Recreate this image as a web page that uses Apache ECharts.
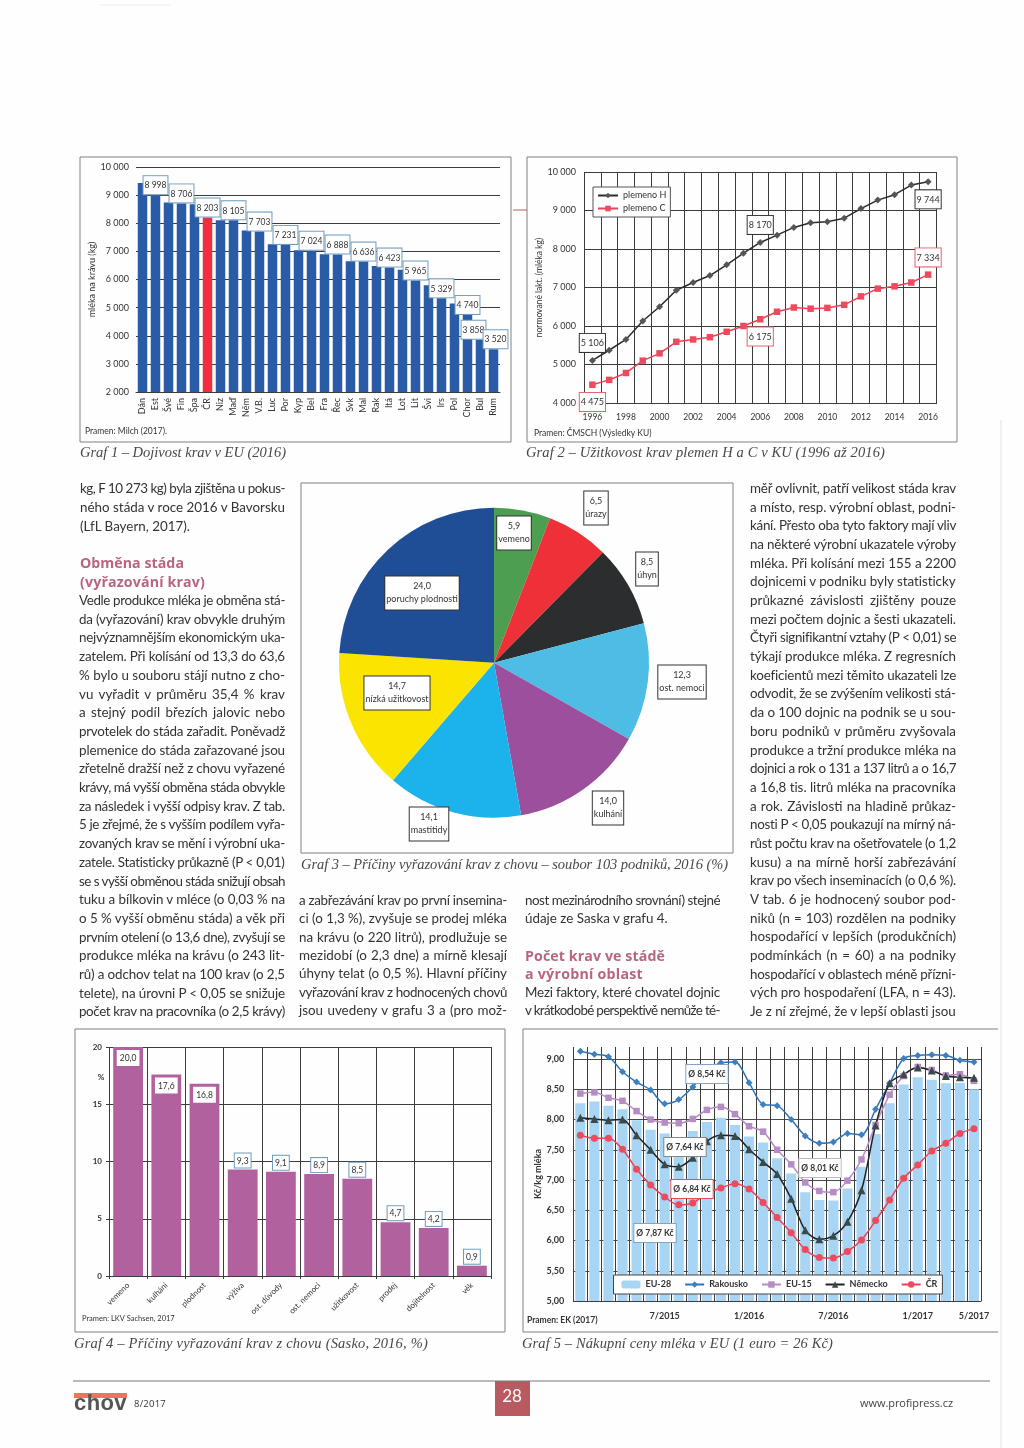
<!DOCTYPE html>
<html lang="cs"><head><meta charset="utf-8">
<style>
html,body{margin:0;padding:0;background:#fff}
#page{position:relative;width:1024px;height:1448px;overflow:hidden;background:#fefefe;filter:blur(0.3px)}
#chart{position:absolute;left:0;top:0;width:1024px;height:1448px}
.t{position:absolute;white-space:pre;line-height:1;transform:translateY(-50%);color:#3a3a3a}
</style>
<script src="https://cdn.jsdelivr.net/npm/echarts@6/dist/echarts.min.js"></script>
</head><body><div id="page"><div id="chart"></div></div>
<script>
// ---- Graf 1
const countries = ['Dán','Est','Švé','Fin','Špa','ČR','Niz','Maď','Něm','V.B.','Luc','Por','Kyp','Bel','Fra','Řec','Svk','Mal','Rak','Itá','Lot','Lit','Švi','Irs','Pol','Chor','Bul','Rum'];
const yields = [9430,8998,8740,8706,8680,8203,8110,8105,7740,7703,7250,7231,7040,7024,6900,6888,6650,6636,6480,6423,6350,5965,5800,5329,5150,4740,3858,3520];
const yieldLabelled = ['Est','Fin','ČR','Maď','V.B.','Por','Bel','Řec','Mal','Itá','Lit','Irs','Chor','Bul','Rum'];
// ---- Graf 2
const years = ['1996','1997','1998','1999','2000','2001','2002','2003','2004','2005','2006','2007','2008','2009','2010','2011','2012','2013','2014','2015','2016'];
const breedH = [5106,5370,5650,6130,6500,6930,7130,7310,7590,7890,8170,8360,8560,8680,8710,8800,9050,9270,9410,9660,9744];
const breedC = [4475,4600,4780,5100,5290,5590,5650,5710,5850,6000,6175,6370,6480,6450,6470,6550,6770,6970,7030,7130,7334];
// ---- Graf 3
const pieNames = ['vemeno','úrazy','úhyn','ost. nemoci','kulhání','mastitidy','nízká užitkovost','poruchy plodnosti'];
const pieValues = [5.9,6.5,8.5,12.3,14.0,14.1,14.7,24.0];
const pieColors = ['#4E9E52','#EE3038','#2B2D2E','#4DBDE6','#9C4F9C','#1CB2EC','#FBE400','#1F4E97'];
// ---- Graf 4
const reasons = ['vemeno','kulhání','plodnost','výživa','ost. důvody','ost. nemoci','užitkovost','prodej','dojitelnost','věk'];
const reasonValues = [20.0,17.6,16.8,9.3,9.1,8.9,8.5,4.7,4.2,0.9];
// ---- Graf 5
const months = ['1/2015','2/2015','3/2015','4/2015','5/2015','6/2015','7/2015','8/2015','9/2015','10/2015','11/2015','12/2015','1/2016','2/2016','3/2016','4/2016','5/2016','6/2016','7/2016','8/2016','9/2016','10/2016','11/2016','12/2016','1/2017','2/2017','3/2017','4/2017','5/2017'];
const monthsShown = ['7/2015','1/2016','7/2016','1/2017','5/2017'];
const eu28 = [8.27,8.30,8.23,8.17,7.99,7.83,7.77,7.60,7.81,7.96,8.03,7.91,7.72,7.62,7.36,7.11,6.80,6.67,6.66,6.86,7.22,7.76,8.27,8.58,8.70,8.66,8.60,8.61,8.50];
const rakousko = [9.13,9.08,9.04,8.79,8.62,8.49,8.26,8.33,8.54,8.78,8.94,8.95,8.61,8.25,8.23,8.00,7.73,7.61,7.63,7.77,7.75,8.17,8.60,9.01,9.06,9.07,9.06,8.98,8.95];
const eu15 = [8.43,8.45,8.36,8.31,8.14,8.00,7.95,7.94,8.01,8.16,8.21,8.09,7.89,7.80,7.50,7.26,6.96,6.82,6.80,6.99,7.34,7.91,8.41,8.72,8.87,8.82,8.73,8.75,8.64];
const nemecko = [8.03,8.01,7.99,8.00,7.74,7.50,7.26,7.22,7.37,7.64,7.74,7.73,7.51,7.30,7.10,6.69,6.17,6.02,6.08,6.31,6.83,7.90,8.60,8.75,8.86,8.81,8.72,8.70,8.69];
const cr = [7.74,7.69,7.69,7.51,7.18,6.92,6.72,6.59,6.62,6.78,6.87,6.94,6.85,6.63,6.38,6.13,5.85,5.72,5.71,5.82,6.01,6.33,6.67,7.03,7.25,7.48,7.61,7.77,7.85];
const g5Notes = ['Ø 8,54 Kč','Ø 7,64 Kč','Ø 6,84 Kč','Ø 7,87 Kč','Ø 8,01 Kč'];
// ---- Text
const colLeftA = ['kg, F 10 273 kg) byla zjištěna u pokus-','ného stáda v roce 2016 v Bavorsku','(LfL Bayern, 2017).'];
const colLeftB = ['Vedle produkce mléka je obměna stá-','da (vyřazování) krav obvykle druhým','nejvýznamnějším ekonomickým uka-','zatelem. Při kolísání od 13,3 do 63,6','% bylo u souboru stájí nutno z cho-','vu vyřadit v průměru 35,4 % krav','a stejný podíl březích jalovic nebo','prvotelek do stáda zařadit. Poněvadž','plemenice do stáda zařazované jsou','zřetelně dražší než z chovu vyřazené','krávy, má vyšší obměna stáda obvykle','za následek i vyšší odpisy krav. Z tab.','5 je zřejmé, že s vyšším podílem vyřa-','zovaných krav se mění i výrobní uka-','zatele. Statisticky průkazně (P < 0,01)','se s vyšší obměnou stáda snižují obsah','tuku a bílkovin v mléce (o 0,03 % na','o 5 % vyšší obměnu stáda) a věk při','prvním otelení (o 13,6 dne), zvyšují se','produkce mléka na krávu (o 243 lit-','rů) a odchov telat na 100 krav (o 2,5','telete), na úrovni P < 0,05 se snižuje','počet krav na pracovníka (o 2,5 krávy)'];
const colMidA = ['a zabřezávání krav po první insemina-','ci (o 1,3 %), zvyšuje se prodej mléka','na krávu (o 220 litrů), prodlužuje se','mezidobí (o 2,3 dne) a mírně klesají','úhyny telat (o 0,5 %). Hlavní příčiny','vyřazování krav z hodnocených chovů','jsou uvedeny v grafu 3 a (pro mož-'];
const colMidB = ['nost mezinárodního srovnání) stejné','údaje ze Saska v grafu 4.'];
const colMidC = ['Mezi faktory, které chovatel dojnic','v krátkodobé perspektivě nemůže té-'];
const colRight = ['měř ovlivnit, patří velikost stáda krav','a místo, resp. výrobní oblast, podni-','kání. Přesto oba tyto faktory mají vliv','na některé výrobní ukazatele výroby','mléka. Při kolísání mezi 155 a 2200','dojnicemi v podniku byly statisticky','průkazné závislosti zjištěny pouze','mezi počtem dojnic a šesti ukazateli.','Čtyři signifikantní vztahy (P < 0,01) se','týkají produkce mléka. Z regresních','koeficientů mezi těmito ukazateli lze','odvodit, že se zvýšením velikosti stá-','da o 100 dojnic na podnik se u sou-','boru podniků v průměru zvyšovala','produkce a tržní produkce mléka na','dojnici a rok o 131 a 137 litrů a o 16,7','a 16,8 tis. litrů mléka na pracovníka','a rok. Závislosti na hladině průkaz-','nosti P < 0,05 poukazují na mírný ná-','růst počtu krav na ošetřovatele (o 1,2','kusu) a na mírně horší zabřezávání','krav po všech inseminacích (o 0,6 %).','V tab. 6 je hodnocený soubor pod-','niků (n = 103) rozdělen na podniky','hospodařící v lepších (produkčních)','podmínkách (n = 60) a na podniky','hospodařící v oblastech méně přízni-','vých pro hospodaření (LFA, n = 43).','Je z ní zřejmé, že v lepší oblasti jsou'];

// ---- HTML text helpers
const page = document.getElementById('page');
function put(str,x,y,css,W,mode){
  const d=document.createElement('div');d.className='t';d.textContent=str;
  d.style.left=x+'px';d.style.top=y+'px';Object.assign(d.style,css);page.appendChild(d);
  if(W){
    const w=d.getBoundingClientRect().width, sp=(str.match(/ /g)||[]).length;
    if(mode==='fit'||w>W||!sp){d.style.letterSpacing=((W-w)/str.length).toFixed(3)+'px';}
    else{d.style.wordSpacing=((W-w)/sp).toFixed(3)+'px';}
  }
  return d;
}
const BODY={fontFamily:'Lato',fontSize:'13.4px',color:'#333'};
function col(lines,x,w,y0,step,lastFree){
  lines.forEach((s,i)=>put(s,x,y0+i*step,BODY,(lastFree&&i===lines.length-1)?0:w));
}
col(colLeftA,80,205,489,18.9,true);
col(colLeftB,79,206,601,18.7,false);
col(colMidA,299,208,901,18.35,false);
col(colMidB,525,195,901,18.35,true);
col(colMidC,525,195,993,18.35,false);
col(colRight,750,206,489,18.68,false);
const HEAD={fontFamily:'"Open Sans"',fontWeight:'700',fontSize:'14.2px',color:'#B9657F'};
put('Obměna stáda',80,563,HEAD,104,'fit');
put('(vyřazování krav)',80,582,HEAD,125,'fit');
put('Počet krav ve stádě',525,956,HEAD,140,'fit');
put('a výrobní oblast',525,974,HEAD,118,'fit');
const CAP={fontFamily:'"Liberation Serif"',fontStyle:'italic',fontSize:'14.5px',color:'#484848'};
put('Graf 1 – Dojivost krav v EU (2016)',80,452,CAP,206,'fit');
put('Graf 2 – Užitkovost krav plemen H a C v KU (1996 až 2016)',526,452,CAP,359,'fit');
put('Graf 3 – Příčiny vyřazování krav z chovu – soubor 103 podniků, 2016 (%)',301,864,CAP,427,'fit');
put('Graf 4 – Příčiny vyřazování krav z chovu (Sasko, 2016, %)',74,1343,CAP,354,'fit');
put('Graf 5 – Nákupní ceny mléka v EU (1 euro = 26 Kč)',522,1343,CAP,311,'fit');
put('chov',74,1403,{fontFamily:'"Liberation Sans"',fontWeight:'700',fontSize:'22px',color:'#555'},53,'fit');
put('8/2017',134,1404,{fontFamily:'"Open Sans"',fontSize:'9.5px',color:'#333'},32,'fit');
put('28',512,1395,{fontFamily:'Lato',fontSize:'17px',color:'#fff',transform:'translate(-50%,-50%)',zIndex:5});
put('www.profipress.cz',860,1402,{fontFamily:'"Open Sans"',fontSize:'11px',color:'#444'},93,'fit');

// ---- Formatters
const sp = v => String(v).replace(/\B(?=(\d{3})+$)/g,' ');
const dec1 = v => v.toFixed(1).replace('.',',');
const dec2 = v => v.toFixed(2).replace('.',',');
const GRID='#3c3c3c', TXT='#333', SANS='Lato';
const axisTxt = (sz,extra)=>Object.assign({color:TXT,fontSize:sz,fontFamily:SANS},extra||{});
const boxLabel = (border,sz)=>({show:true,backgroundColor:'#fff',borderColor:border,borderWidth:1,padding:[3,2,2,2],color:TXT,fontSize:sz,fontFamily:SANS});

// ---- Layout constants (page pixels)
const pieLabelPos=[[514,533],[596,508],[647,569],[682,682],[608,808],[429,824],[397,693],[422,593]];
const notePos=[[707,1074,'#7fa6c6'],[685,1147,'#888'],[692,1189,'#E0505A'],[655,1233,'#7fa6c6'],[820,1168,'#bbb']];
const yieldLabelShift={Bul:[-7,0],Rum:[2,0]};
const g2Labels={H:{0:'top',10:'top',20:'bottom'},C:{0:'bottom',10:'bottom',20:'top'}};

function g(str,x,y,sz,extra){return {type:'text',x,y,z:100,silent:true,style:Object.assign({text:str,fontSize:sz,fontFamily:SANS,fill:TXT,verticalAlign:'middle'},extra||{})};}
function frame(x1,y1,x2,y2){return {type:'rect',z:1,silent:true,shape:{x:x1,y:y1,width:x2-x1,height:y2-y1},style:{fill:'none',stroke:'#808080',lineWidth:1}};}
function hline(x1,y1,x2,y2,c,lw){return {type:'line',z:1,silent:true,shape:{x1,y1,x2,y2},style:{stroke:c,lineWidth:lw||1}};}

const elements=[
  frame(80,157,511,442),frame(527,157,957,442),frame(301,483,733,853),frame(75,1029,505,1332),
  hline(523,1029,998,1029,'#808080'),hline(523,1029,523,1332,'#808080'),hline(523,1332,998,1332,'#808080'),
  hline(73,1381,990,1381,'#777'),hline(513,210,527,210,'#b0606a'),hline(1001,420,1001,1448,'#e4e4e4'),hline(100,5,170,5,'#ececec'),
  {type:'rect',z:2,silent:true,shape:{x:495,y:1381,width:35,height:35},style:{fill:'#B95A60'}},
  {type:'rect',z:2,silent:true,shape:{x:74,y:1393,width:53,height:5},style:{fill:'#EE7555'}},
  g('Pramen: Milch (2017).',85,431,8.5),
  g('Pramen: ČMSCH (Výsledky KU)',534,433,8.5),
  g('Pramen: LKV Sachsen, 2017',82,1319,7.5),
  g('Pramen: EK (2017)',527,1320,8.5,{fontWeight:'bold'}),
  g('%',101,1077,8,{fontWeight:'bold',align:'center'})
];
g5Notes.forEach((s,i)=>{const p=notePos[i];elements.push(g(s,p[0],p[1],8.5,{fontWeight:'bold',align:'center',backgroundColor:'#fff',borderColor:p[2],borderWidth:1,padding:[5,2,4,2]}));});

// ---- Series data with per-point styling
const yieldData = yields.map((v,i)=>{
  const c=countries[i], o={value:v,itemStyle:{color:c==='ČR'?'#EF2F40':'#2A5BA6'}};
  if(yieldLabelled.includes(c)) o.label=Object.assign(boxLabel('#6d9cc0',8.5),{position:'top',distance:1,padding:[5,1,4,1],offset:yieldLabelShift[c]||[0,0],formatter:p=>sp(p.value)});
  return o;
});
const g2Data=(arr,key,color)=>arr.map((v,i)=>{
  const pos=g2Labels[key][i];
  return pos?{value:v,label:Object.assign(boxLabel(color,9),{position:pos,distance:5,padding:[5,1,4,1],formatter:p=>sp(p.value)})}:v;
});
const reasonData=reasonValues.map((v,i)=>({value:v,label:Object.assign(boxLabel('#6d9cc0',8.5),{position:i<3?'insideTop':'top',distance:i<3?4:2,formatter:p=>dec1(p.value),borderColor:i<3?'#fff':'#6d9cc0'})}));

const opt={
  animation:false,
  textStyle:{fontFamily:SANS},
  graphic:{elements},
  grid:[
    {left:136,top:167,width:364,height:225},
    {left:584,top:172,width:352.5,height:231},
    {left:109,top:1047,width:382,height:229},
    {left:573.3,top:1047,width:407.7,height:254}
  ],
  xAxis:[
    {gridIndex:0,type:'category',data:countries,axisTick:{show:false},axisLine:{lineStyle:{color:GRID}},axisLabel:axisTxt(9,{rotate:90,interval:0,margin:6})},
    {gridIndex:1,type:'category',data:years,axisTick:{show:false},axisLine:{lineStyle:{color:GRID}},splitLine:{show:true,interval:0,lineStyle:{color:GRID}},axisLabel:axisTxt(8.5,{interval:1,margin:10})},
    {gridIndex:2,type:'category',data:reasons,axisTick:{show:true,length:3,lineStyle:{color:GRID},alignWithLabel:false},axisLine:{lineStyle:{color:GRID}},splitLine:{show:true,interval:0,lineStyle:{color:GRID}},axisLabel:axisTxt(8,{rotate:45,interval:0,margin:8})},
    {gridIndex:3,type:'category',data:months,axisTick:{show:true,interval:0,length:3,inside:true,lineStyle:{color:GRID}},axisLine:{lineStyle:{color:GRID}},splitLine:{show:true,interval:0,lineStyle:{color:GRID}},axisLabel:axisTxt(9,{fontWeight:'bold',margin:11,interval:(i,v)=>monthsShown.includes(v)})}
  ],
  yAxis:[
    {gridIndex:0,type:'value',min:2000,max:10000,interval:1000,name:'mléka na krávu (kg)',nameLocation:'middle',nameGap:38,nameTextStyle:axisTxt(9),axisLine:{show:false},axisTick:{show:false},splitLine:{lineStyle:{color:GRID}},axisLabel:axisTxt(9,{formatter:sp,margin:7})},
    {gridIndex:1,type:'value',min:4000,max:10000,interval:1000,name:'normované lakt. (mléka kg)',nameLocation:'middle',nameGap:38,nameTextStyle:axisTxt(8.5),axisLine:{show:false},axisTick:{show:false},splitLine:{lineStyle:{color:GRID}},axisLabel:axisTxt(9,{formatter:sp,margin:8})},
    {gridIndex:2,type:'value',min:0,max:20,interval:5,axisLine:{show:false},axisTick:{show:true,length:3,lineStyle:{color:GRID}},splitLine:{lineStyle:{color:GRID}},axisLabel:axisTxt(8,{fontWeight:'bold',margin:7})},
    {gridIndex:3,type:'value',min:5,max:9.2,interval:0.5,name:'Kč/kg mléka',nameLocation:'middle',nameGap:31,nameTextStyle:axisTxt(9,{fontWeight:'bold'}),axisLine:{show:false},axisTick:{show:false},splitLine:{showMaxLine:false,lineStyle:{color:'#4a4a4a'}},axisLabel:axisTxt(9,{fontWeight:'bold',margin:9,showMaxLabel:false,formatter:dec2})}
  ],
  legend:[
    {orient:'vertical',left:593,top:187,padding:[4,4,4,4],itemGap:4,itemWidth:20,itemHeight:7,backgroundColor:'#fff',borderColor:'#555',borderWidth:1,data:['plemeno H','plemeno C'],textStyle:axisTxt(9),selectedMode:false},
    {orient:'horizontal',left:613.5,top:1275,padding:[5,5,5,8],itemGap:13,itemWidth:19,itemHeight:8,backgroundColor:'#fff',borderColor:'#444',borderWidth:1,data:['EU-28','Rakousko','EU-15','Německo','ČR'],textStyle:axisTxt(9,{fontWeight:'bold'}),selectedMode:false}
  ],
  series:[
    {name:'Dojivost',type:'bar',xAxisIndex:0,yAxisIndex:0,data:yieldData,barCategoryGap:'27%'},
    {name:'plemeno H',type:'line',xAxisIndex:1,yAxisIndex:1,data:g2Data(breedH,'H','#333'),symbol:'diamond',symbolSize:7,lineStyle:{color:'#2b2b2b',width:1.5},itemStyle:{color:'#555'}},
    {name:'plemeno C',type:'line',xAxisIndex:1,yAxisIndex:1,data:g2Data(breedC,'C','#E86070'),symbol:'rect',symbolSize:6.5,lineStyle:{color:'#EE4055',width:1.5},itemStyle:{color:'#EE4A5E'}},
    {name:'Příčiny',type:'pie',center:[494,662.7],radius:[0,155],startAngle:90,clockwise:true,avoidLabelOverlap:false,
      data:pieNames.map((n,i)=>({name:n,value:pieValues[i],itemStyle:{color:pieColors[i]}})),
      label:{position:'inside',formatter:p=>dec1(p.value)+'\n'+p.name,backgroundColor:'#fff',borderColor:'#333',borderWidth:1,padding:[4,1,3,1],lineHeight:13,fontSize:9,color:TXT,fontFamily:SANS,align:'center'},
      labelLine:{show:false},
      labelLayout:p=>({x:pieLabelPos[p.dataIndex][0],y:pieLabelPos[p.dataIndex][1],align:'center',verticalAlign:'middle'})},
    {name:'Sasko',type:'bar',xAxisIndex:2,yAxisIndex:2,data:reasonData,barCategoryGap:'22%',itemStyle:{color:'#B2619F'}},
    {name:'EU-28',type:'bar',xAxisIndex:3,yAxisIndex:3,data:eu28,barCategoryGap:'28%',itemStyle:{color:'#A9D5F4'}},
    {name:'Rakousko',type:'line',xAxisIndex:3,yAxisIndex:3,data:rakousko,smooth:0.3,symbol:'diamond',symbolSize:7,lineStyle:{color:'#2E74B5',width:1.5},itemStyle:{color:'#3D7FBF'}},
    {name:'EU-15',type:'line',xAxisIndex:3,yAxisIndex:3,data:eu15,smooth:0.3,symbol:'rect',symbolSize:6.5,lineStyle:{color:'#B68CC4',width:1.5},itemStyle:{color:'#B68CC4'}},
    {name:'Německo',type:'line',xAxisIndex:3,yAxisIndex:3,data:nemecko,smooth:0.3,symbol:'triangle',symbolSize:8,lineStyle:{color:'#222',width:1.5},itemStyle:{color:'#3a4a4a'}},
    {name:'ČR',type:'line',xAxisIndex:3,yAxisIndex:3,data:cr,smooth:0.3,symbol:'circle',symbolSize:7,lineStyle:{color:'#EE4055',width:1.5},itemStyle:{color:'#EE4A5E'}}
  ]
};
const chart=echarts.init(document.getElementById('chart'),null,{width:1024,height:1448});
chart.setOption(opt);
</script></body></html>
